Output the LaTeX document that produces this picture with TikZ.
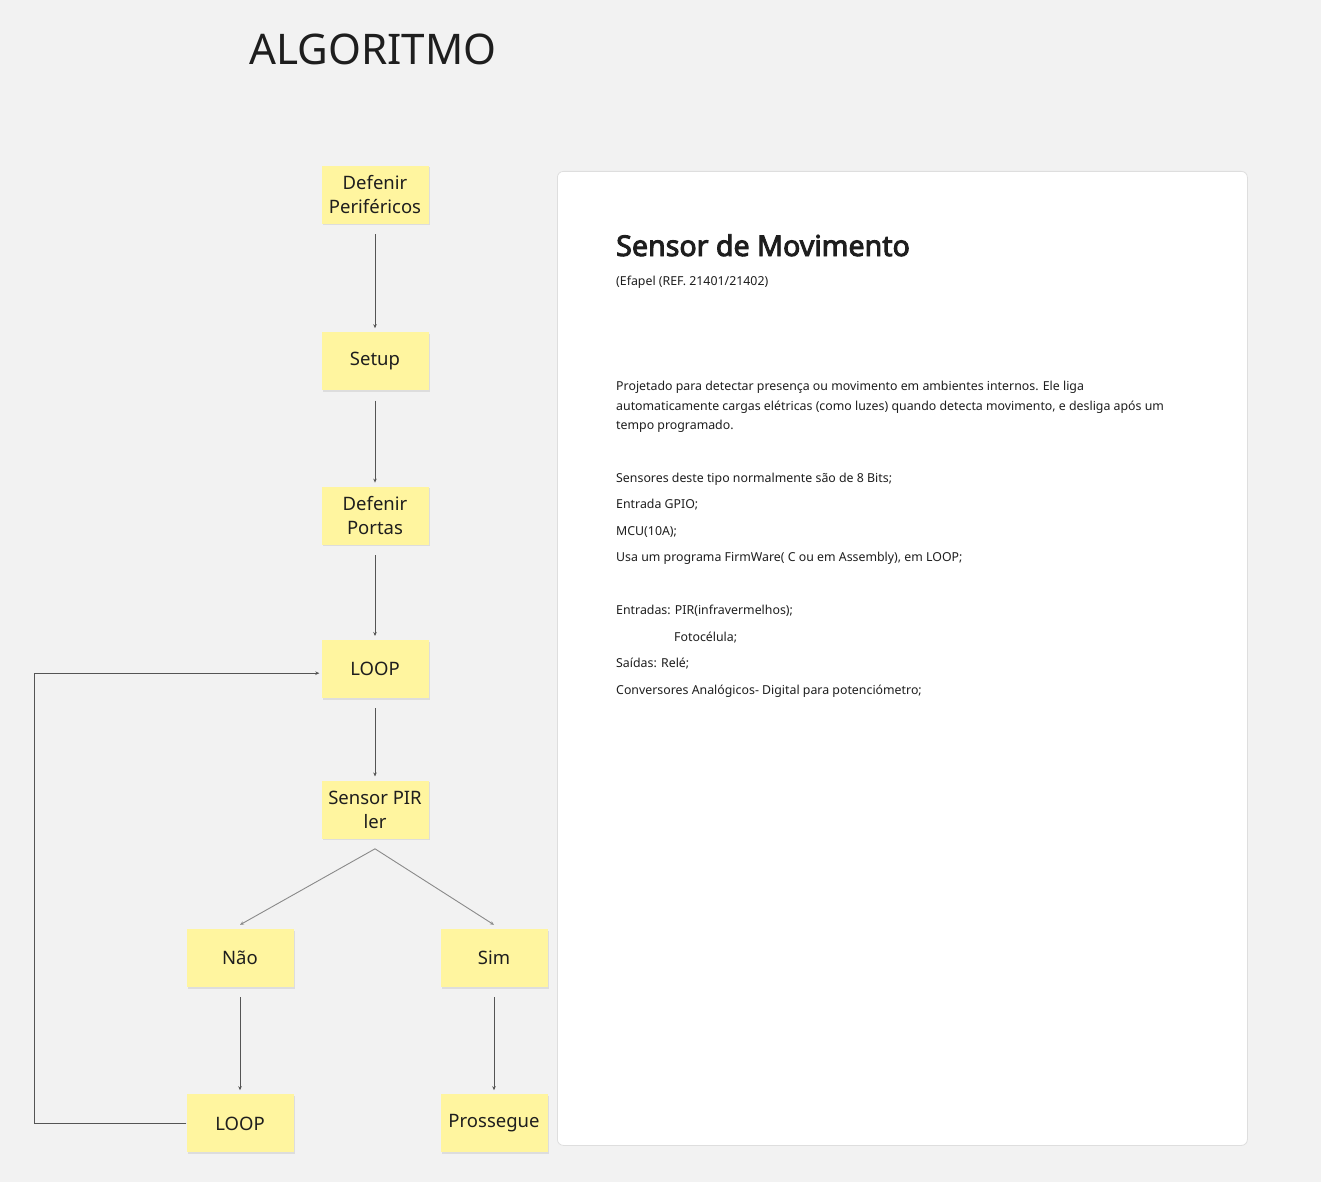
\documentclass[tikz,border=0pt]{standalone}
\usepackage{fontspec}
\setmainfont{Noto Sans}
\newfontfamily\headfont{Noto Sans}[FakeBold=3.2]
\usepackage{xcolor}
\usepackage{tikz}
\usetikzlibrary{arrows.meta, positioning, shadows, calc}
\definecolor{algbg}{HTML}{F2F2F2}
\definecolor{algnote}{HTML}{FFF59F}
\definecolor{algline}{HTML}{555555}
\definecolor{algbranch}{HTML}{8A8A8A}
\definecolor{algtext}{HTML}{1E1E1E}
\definecolor{algborder}{HTML}{DEDEDE}

\begin{document}
\begin{tikzpicture}[x=1pt, y=-1pt, text=algtext,
  note/.style={rectangle, fill=algnote, minimum width=107pt, minimum height=58pt,
               align=center, inner sep=2pt, font=\fontsize{18.5}{24}\selectfont,
               drop shadow={opacity=0.18, shadow xshift=1pt, shadow yshift=-1.5pt}},
  arr/.style={-{Stealth[length=4pt, width=3.5pt]}, line width=0.8pt, algline,
              shorten <=10pt, shorten >=4pt},
  branch/.style={-{Stealth[length=4pt, width=3.5pt]}, line width=0.9pt, algbranch},
  body/.style={font=\fontsize{12.35}{16}\selectfont, inner sep=0pt, anchor=base west}]
  \useasboundingbox[fill=algbg] (0,0) rectangle (1321,1182);

  % titulo
  \node[font=\fontsize{42.2}{50}\selectfont, anchor=base, inner sep=0pt] (titulo) at (373,65) {ALGORITMO};

  % fluxo
  \node[note] (defper) at (375,195) {Defenir\\Periféricos};
  \node[note, below=108pt of defper] (setup) {Setup};
  \node[note, below=96pt of setup] (portas) {Defenir\\Portas};
  \node[note, below=95pt of portas] (loopa) {LOOP};
  \node[note, below=82pt of loopa] (pir) {Sensor PIR\\ler};
  \node[note] (nao) at (240,958) {Não};
  \node[note] (sim) at (494,958) {Sim};
  \node[note, below=107pt of nao] (loopb) {LOOP};
  \node[note, below=107pt of sim] (prossegue) {Prossegue};

  \draw[arr] (defper) -- (setup);
  \draw[arr] (setup) -- (portas);
  \draw[arr] (portas) -- (loopa);
  \draw[arr] (loopa) -- (pir);
  \coordinate (split) at ([yshift=-10pt]pir.south);
  \draw[branch] (split) -- ([yshift=4pt]nao.north);
  \draw[branch] (split) -- ([yshift=4pt]sim.north);
  \draw[arr] (nao) -- (loopb);
  \draw[arr] (sim) -- (prossegue);
  \draw[arr, shorten <=0pt, shorten >=2pt] (loopb.west) -- ++(-152,0) |- ([yshift=-4pt]loopa.west);

  % painel
  \node[draw=algborder, fill=white, rounded corners=6pt, line width=0.8pt,
        minimum width=690pt, minimum height=974pt, anchor=north west] (painel) at (557,171) {};
  \node[font=\headfont\fontsize{28.6}{32}\selectfont, inner sep=0pt, anchor=base west] (ptitulo) at (616,256) {Sensor de Movimento};
  \node[body] (pref) at (616,285) {(Efapel (REF. 21401/21402)};
  \foreach \yy/\txt [count=\i] in {
      390/{Projetado para detectar presença ou movimento em ambientes internos. Ele liga},
      410/{automaticamente cargas elétricas (como luzes) quando detecta movimento, e desliga após um},
      429/{tempo programado.},
      482/{Sensores deste tipo normalmente são de 8 Bits;},
      508/{Entrada GPIO;},
      535/{MCU(10A);},
      561/{Usa um programa FirmWare( C ou em Assembly), em LOOP;},
      614/{Entradas: PIR(infravermelhos);},
      667/{Saídas: Relé;},
      694/{Conversores Analógicos- Digital para potenciómetro;}}
    \node[body] (linha\i) at (616,\yy) {\txt};
  \node[body] (foto) at (674,641) {Fotocélula;};
\end{tikzpicture}
\end{document}
